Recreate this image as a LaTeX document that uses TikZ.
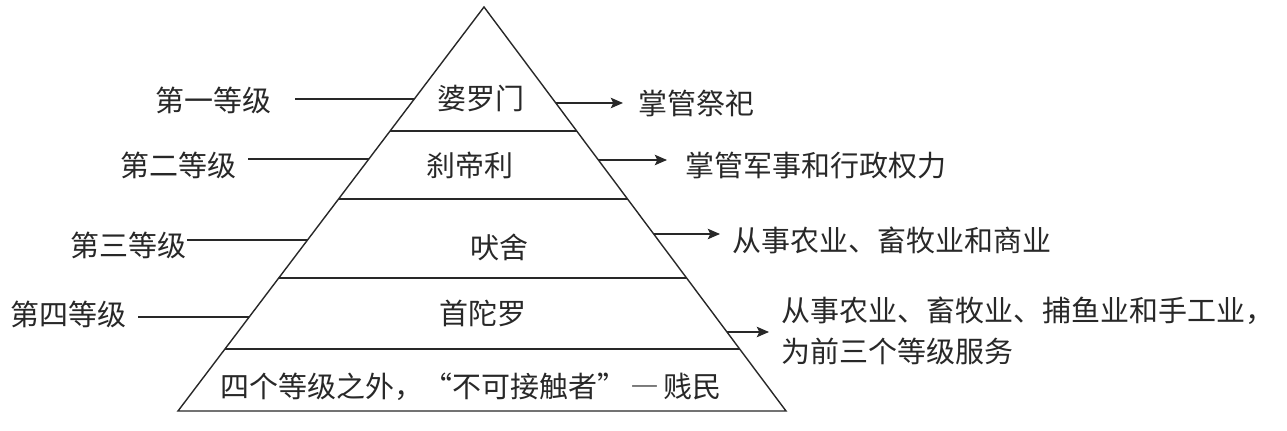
\documentclass[tikz,border=0pt]{standalone}
\usepackage{fontspec}
\usepackage{tikz}
\usetikzlibrary{arrows.meta}
\setmainfont{Noto Sans CJK SC}
\definecolor{inkgray}{RGB}{40, 40, 40}

\begin{document}
\begin{tikzpicture}[x = 0.02cm, y = -0.02cm, line width = 0.8pt, color = inkgray,
			caste/.style = {inner sep = 0pt, font = \fontsize{16.5}{23.4}\selectfont},
			rank/.style = {caste, anchor = east},
			duty/.style = {caste, anchor = west, align = left},
			dutyarrow/.style = {-{Stealth[length = 7pt, width = 6pt, inset = 1.5pt]}}]
			\useasboundingbox (0,0) rectangle (1287,431);
			% pyramid
			\coordinate (top) at (484,7);
			\coordinate (bl) at (178,411);
			\coordinate (br) at (786,411);
			\draw (top) -- (bl) -- (br) -- cycle;
			\coordinate (d1l) at (390.1,131);
			\coordinate (d1r) at (576.7,131);
			\coordinate (d2l) at (338.6,199);
			\coordinate (d2r) at (627.5,199);
			\coordinate (d3l) at (278.7,278);
			\coordinate (d3r) at (686.6,278);
			\coordinate (d4l) at (225.0,349);
			\coordinate (d4r) at (739.6,349);
			\draw (d1l) -- (d1r);
			\draw (d2l) -- (d2r);
			\draw (d3l) -- (d3r);
			\draw (d4l) -- (d4r);
			% castes
			\node (brahmin) at (481,98) [caste] {婆罗门};
			\node (kshatriya) at (470,165) [caste] {刹帝利};
			\node (vaishya) at (499,247) [caste] {吠舍};
			\node (shudra) at (483,313) [caste] {首陀罗};
			\node (dalit) at (471,387) [caste] {四个等级之外，“不可接触者”\hspace{0.15em}{\addfontfeature{RawFeature=+fwid}—}\hspace{0.15em}贱民};
			% ranks on the left
			\coordinate (le1) at (414.3,99);
			\coordinate (le2) at (368.9,159);
			\coordinate (le3) at (307.5,240);
			\coordinate (le4) at (249.2,317);
			\node (rank1) at (272,100) [rank] {第一等级};
			\node (rank2) at (237,165) [rank] {第二等级};
			\node (rank3) at (187,245) [rank] {第三等级};
			\node (rank4) at (127,314) [rank] {第四等级};
			\draw [shorten < = 0.46cm] (rank1.east |- le1) -- (le1);
			\draw [shorten < = 0.22cm] (rank2.east |- le2) -- (le2);
			\draw (rank3.east |- le3) -- (le3);
			\draw [shorten < = 0.22cm] (rank4.east |- le4) -- (le4);
			% duties on the right
			\coordinate (re1) at (555.8,103);
			\coordinate (re2) at (598.4,160);
			\coordinate (re3) at (653.7,234);
			\coordinate (re4) at (726.9,332);
			\node (duty1) at (638,103) [duty] {掌管祭祀};
			\node (duty2) at (685,166) [duty] {掌管军事和行政权力};
			\node (duty3) at (732,240) [duty] {从事农业、畜牧业和商业};
			\node (duty4) at (781,331) [duty] {从事农业、畜牧业、捕鱼业和手工业，\\为前三个等级服务};
			\draw [dutyarrow, shorten > = 0.3cm] (re1) -- (re1 -| duty1.west);
			\draw [dutyarrow, shorten > = 0.36cm] (re2) -- (re2 -| duty2.west);
			\draw [dutyarrow, shorten > = 0.24cm] (re3) -- (re3 -| duty3.west);
			\draw [dutyarrow, shorten > = 0.24cm] (re4) -- (re4 -| duty4.west);
\end{tikzpicture}
\end{document}
